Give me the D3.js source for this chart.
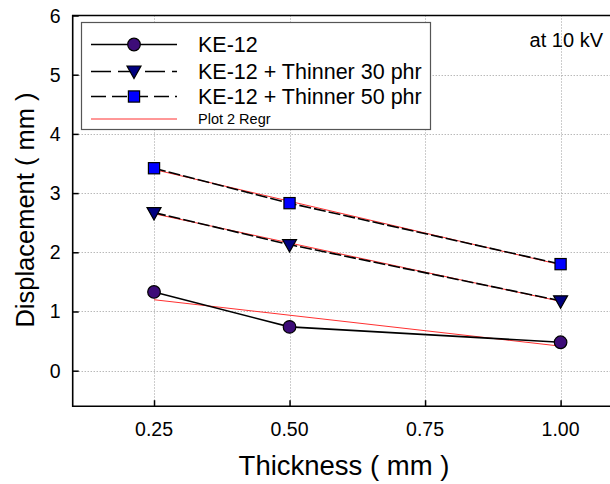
<!DOCTYPE html>
<html>
<head>
<meta charset="utf-8">
<script src="https://cdn.jsdelivr.net/npm/d3@7"></script>
<style>
  body { margin: 0; background: #fff; }
  svg { display: block; font-family: "Liberation Sans", Arial, sans-serif; }
</style>
</head>
<body>
<div id="my_dataviz"></div>
<script>
// data
var thickness = [0.25, 0.50, 1.00];
var ke12 = [1.33, 0.74, 0.48];
var thinner30 = [2.67, 2.13, 1.18];
var thinner50 = [3.42, 2.83, 1.80];
var xTicks = [0.25, 0.50, 0.75, 1.00];
var yTicks = [0, 1, 2, 3, 4, 5, 6];
var seriesNames = ["KE-12", "KE-12 + Thinner 30 phr", "KE-12 + Thinner 50 phr", "Plot 2 Regr"];

var W = 610, H = 484;
var margin = { top: 15.5, left: 72.7, bottom: H - 406.2 };

var svg = d3.select("#my_dataviz").append("svg")
    .attr("width", W).attr("height", H);

var x = d3.scaleLinear().domain([0.1, 1.1]).range([margin.left, 614.8]);
var y = d3.scaleLinear().domain([-0.6, 6]).range([H - margin.bottom, margin.top]);

// dotted grid
var grid = svg.append("g").attr("stroke", "#9a9a9a").attr("stroke-width", 1).attr("stroke-dasharray", "1,2");
grid.selectAll(".gx").data(xTicks).enter().append("line")
    .attr("x1", d => Math.round(x(d)) + 0.5).attr("x2", d => Math.round(x(d)) + 0.5)
    .attr("y1", y(6)).attr("y2", y(-0.6));
grid.selectAll(".gy").data(yTicks.filter(d => d < 6)).enter().append("line")
    .attr("x1", x(0.1)).attr("x2", W)
    .attr("y1", d => Math.round(y(d)) + 0.5).attr("y2", d => Math.round(y(d)) + 0.5);

// axes with inward ticks
var xAxis = svg.append("g")
    .attr("transform", "translate(0," + y(-0.6) + ")")
    .call(d3.axisTop(x).tickValues(xTicks).tickSize(6).tickFormat(""));
var yAxis = svg.append("g")
    .attr("transform", "translate(" + x(0.1) + ",0)")
    .call(d3.axisRight(y).tickValues(yTicks).tickSize(6).tickFormat(""));
[xAxis, yAxis].forEach(function(a) {
    a.select(".domain").remove();
    a.selectAll("line").attr("stroke", "#000").attr("stroke-width", 1.5);
});

// frame (left, top, bottom)
svg.append("path")
    .attr("d", "M" + W + "," + y(6) + "H" + x(0.1) + "V" + y(-0.6) + "H" + W)
    .attr("fill", "none").attr("stroke", "#000").attr("stroke-width", 1.6);

// tick labels
svg.selectAll(".xl").data(xTicks).enter().append("text")
    .attr("x", d => x(d)).attr("y", 436)
    .attr("text-anchor", "middle").attr("font-size", "19.5px")
    .text(d => d3.format(".2f")(d));
svg.selectAll(".yl").data(yTicks).enter().append("text")
    .attr("x", 60.5).attr("y", d => y(d) + 7)
    .attr("text-anchor", "end").attr("font-size", "19.5px")
    .text(d => d);

// axis titles
svg.append("text")
    .attr("x", 344).attr("y", 475)
    .attr("text-anchor", "middle").attr("font-size", "27.5px")
    .text("Thickness ( mm )");
svg.append("text")
    .attr("transform", "translate(34,210) rotate(-90)")
    .attr("text-anchor", "middle").attr("font-size", "25.5px")
    .text("Displacement ( mm )");

// regression lines
function regr(xs, ys) {
    var mx = d3.mean(xs), my = d3.mean(ys);
    var sxy = d3.sum(xs, (v, i) => (v - mx) * (ys[i] - my));
    var sxx = d3.sum(xs, v => (v - mx) * (v - mx));
    var b = sxy / sxx, a = my - b * mx;
    var x0 = d3.min(xs), x1 = d3.max(xs);
    return [[x0, a + b * x0], [x1, a + b * x1]];
}

var series = [
    { vals: ke12, dash: null, marker: "circle", fill: "#3d0c78" },
    { vals: thinner30, dash: "12,3", marker: "tri", fill: "#000080" },
    { vals: thinner50, dash: "12,3", marker: "square", fill: "#0000ff" }
];

var line = d3.line().x(d => x(d[0])).y(d => y(d[1]));

series.forEach(function(s) {
    svg.append("path")
        .attr("d", line(regr(thickness, s.vals)))
        .attr("fill", "none").attr("stroke", "#ff3030").attr("stroke-width", 1);
});

function drawMarker(g, type, cx, cy, fill) {
    if (type === "circle") {
        g.append("circle").attr("cx", cx).attr("cy", cy).attr("r", 6.3)
            .attr("fill", fill).attr("stroke", "#000").attr("stroke-width", 1.2);
    } else if (type === "square") {
        g.append("rect").attr("x", cx - 5.6).attr("y", cy - 5.6)
            .attr("width", 11.2).attr("height", 11.2)
            .attr("fill", fill).attr("stroke", "#000").attr("stroke-width", 1.2);
    } else {
        g.append("path")
            .attr("d", "M" + (cx - 7) + "," + (cy - 5) + "L" + (cx + 7) + "," + (cy - 5) + "L" + cx + "," + (cy + 7.5) + "Z")
            .attr("fill", fill).attr("stroke", "#000").attr("stroke-width", 1.2);
    }
}

series.forEach(function(s) {
    var pts = thickness.map((t, i) => [t, s.vals[i]]);
    svg.append("path")
        .attr("d", line(pts))
        .attr("fill", "none").attr("stroke", "#000").attr("stroke-width", 1.6)
        .attr("stroke-dasharray", s.dash);
    var g = svg.append("g");
    pts.forEach(p => drawMarker(g, s.marker, x(p[0]), y(p[1]), s.fill));
});

// annotation
svg.append("text")
    .attr("x", 603).attr("y", 47).attr("text-anchor", "end")
    .attr("font-size", "20px").text("at 10 kV");

// legend
var lg = svg.append("g");
lg.append("rect").attr("x", 81.5).attr("y", 22.5).attr("width", 349).attr("height", 107)
    .attr("fill", "#fff").attr("stroke", "#555").attr("stroke-width", 1.2);
var legRows = [
    { y: 44.5, dash: null, marker: "circle", fill: "#3d0c78", color: "#000", w: 1.6 },
    { y: 71.5, dash: "20,7", marker: "tri", fill: "#000080", color: "#000", w: 1.6 },
    { y: 96.5, dash: "15,6", marker: "square", fill: "#0000ff", color: "#000", w: 1.6 },
    { y: 119, dash: null, marker: null, fill: null, color: "#ff3030", w: 1 }
];
legRows.forEach(function(r, i) {
    lg.append("line").attr("x1", 91).attr("x2", 177).attr("y1", r.y).attr("y2", r.y)
        .attr("stroke", r.color).attr("stroke-width", r.w).attr("stroke-dasharray", r.dash);
    if (r.marker) drawMarker(lg, r.marker, 134, r.y + (r.marker === "tri" ? -0.5 : 0), r.fill);
    lg.append("text").attr("x", 198).attr("y", i < 3 ? r.y + 7.5 : 124)
        .attr("font-size", i < 3 ? "21.5px" : "14.5px")
        .text(seriesNames[i]);
});
</script>
</body>
</html>
